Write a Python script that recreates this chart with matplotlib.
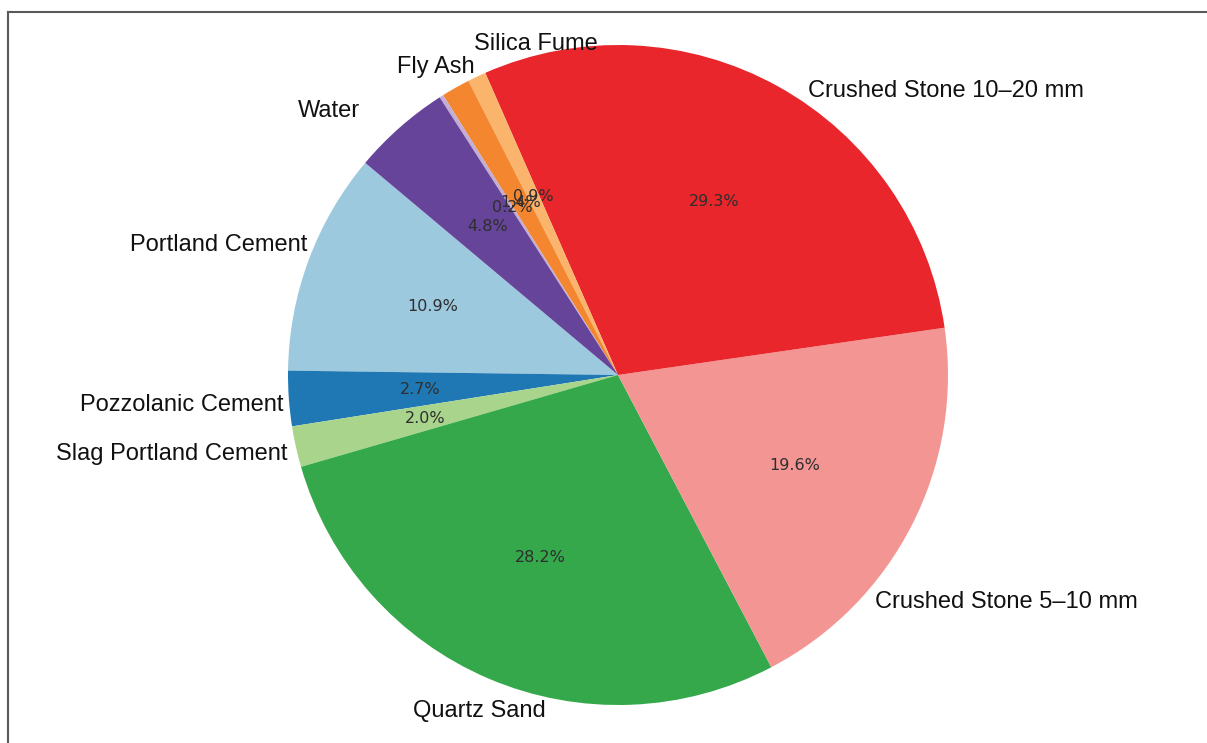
import matplotlib
matplotlib.use("Agg")
import matplotlib.pyplot as plt
from matplotlib.lines import Line2D

# mix composition, share of total mass (%)
components = ["Portland Cement", "Pozzolanic Cement", "Slag Portland Cement",
              "Quartz Sand", "Crushed Stone 5\u201310 mm", "Crushed Stone 10\u201320 mm",
              "Silica Fume", "Fly Ash", "", "Water"]
shares = [10.9, 2.7, 2.0, 28.2, 19.6, 29.3, 0.9, 1.4, 0.2, 4.8]
colors = ["#9cc9de", "#1f78b4", "#a8d48c", "#34a84a", "#f39593",
          "#e8262b", "#fbb46c", "#f4862f", "#c2aed4", "#66449a"]

# hand placed label anchors (x, y, ha) in pie radius units
label_spots = [(-0.94, 0.394, "right"), (-1.015, -0.091, "right"), (-1.003, -0.239, "right"),
               (-0.42, -1.018, "center"), (0.779, -0.688, "left"), (0.576, 0.861, "left"),
               (-0.06, 1.003, "right"), (-0.433, 0.933, "right"), (0.0, 0.0, "center"),
               (-0.782, 0.800, "right")]

fig = plt.figure(figsize=(12.07, 7.43), dpi=100)
ax = fig.add_axes([0, 0, 1, 1])

wedges, texts, autotexts = ax.pie(shares, labels=components, colors=colors,
                                  startangle=140, counterclock=True,
                                  autopct="%1.1f%%", pctdistance=0.6,
                                  textprops={"fontsize": 11.5})

for t, (x, y, ha) in zip(texts, label_spots):
    t.set_position((x, y))
    t.set_ha(ha)
    t.set_va("center")
    t.set_fontsize(17)
    t.set_family(["Liberation Sans", "DejaVu Sans"])
    t.set_color("#111111")

for t in autotexts:
    t.set_color("#2e2e2e")
    t.set_family("DejaVu Sans")

ax.set_xlim(-618 / 330, (1207 - 618) / 330)
ax.set_ylim((375 - 743) / 330, 375 / 330)
ax.set_aspect("equal")
ax.axis("off")

# frame lines along top and left
fig.add_artist(Line2D([8 / 1207, 1.0], [1 - 12 / 743, 1 - 12 / 743],
                      transform=fig.transFigure, color="#5a5a5a", lw=1.5))
fig.add_artist(Line2D([8 / 1207, 8 / 1207], [0.0, 1 - 12 / 743],
                      transform=fig.transFigure, color="#5a5a5a", lw=1.5))

fig.savefig("out.png", dpi=100, facecolor="white")
